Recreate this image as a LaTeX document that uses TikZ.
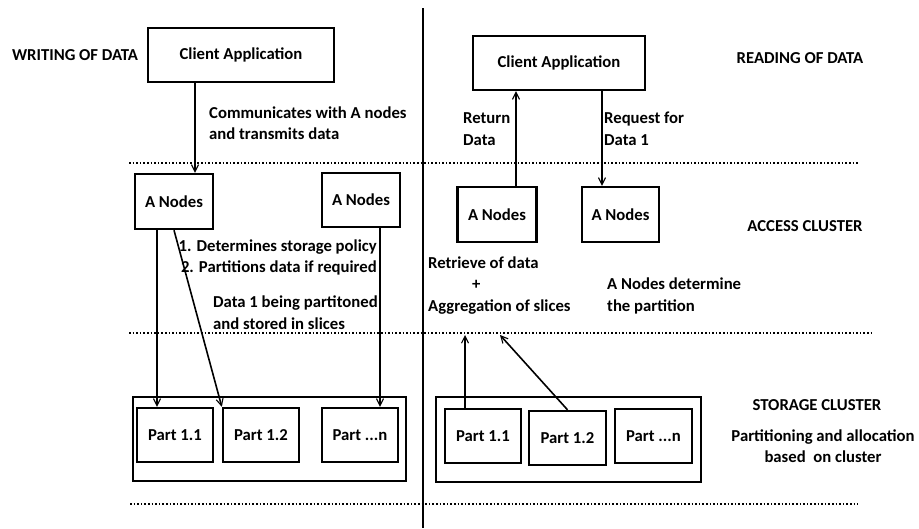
\documentclass[tikz,border=0pt]{standalone}
\usepackage{fontspec}
\setmainfont{Carlito}
\usetikzlibrary{arrows.meta}
\begin{document}
\begin{tikzpicture}[x=1pt,y=-1pt,
  every node/.style={font=\fontsize{16.7}{21.5}\selectfont\bfseries, inner sep=0pt},
  box/.style={draw, line width=2.4pt, minimum width=#1},
  arr/.style={line width=1.6pt, -{Straight Barb[length=7pt,width=7pt,line width=1.1pt]}},
  dots/.style={line width=1.6pt, dotted},
  txt/.style={align=left}]
\useasboundingbox (0,0) rectangle (919,528);
% divider and dotted lines
\coordinate (dvt) at (423,8);
\coordinate (dvb) at (423,528);
\draw[line width=1.6pt] (dvt) -- (dvb);
\coordinate (d1a) at (129,163); \coordinate (d1b) at (858,163);
\coordinate (d2a) at (129,333); \coordinate (d2b) at (873,333);
\coordinate (d3a) at (130,504); \coordinate (d3b) at (858,504);
\draw[dots] (d1a) -- (d1b);
\draw[dots] (d2a) -- (d2b);
\draw[dots] (d3a) -- (d3b);
% headings
\node (wr) at (75,55) {WRITING OF DATA};
\node (rd) at (800,58) {READING OF DATA};
\node (ac) at (805,226) {ACCESS CLUSTER};
\node (sc) at (817,405) {STORAGE CLUSTER};
\node[align=center] (pa) at (823,446) {Partitioning and allocation\\based\ \ on cluster};
% left side boxes
\node[box=186pt, minimum height=54pt] (cl) at (241,55) {Client Application};
\node[box=78pt, minimum height=55pt] (aL1) at (174,201.5) {A Nodes};
\node[box=78pt, minimum height=54pt] (aL2) at (361,200) {A Nodes};
\node[box=273pt, minimum height=84pt] (oL) at (269.5,439) {};
\node[box=76pt, minimum height=54pt] (pL1) at (175,435) {Part 1.1};
\node[box=76pt, minimum height=54pt] (pL2) at (261,435) {Part 1.2};
\node[box=76pt, minimum height=54pt] (pLn) at (360,435) {Part ...n};
% right side boxes
\node[box=172pt, minimum height=54pt] (cr) at (559,63) {Client Application};
\node[box=79pt, minimum height=55pt] (aR1) at (497,214.5) {A Nodes};
\node[box=77pt, minimum height=55pt] (aR2) at (620.5,214.5) {A Nodes};
\node[box=265pt, minimum height=85pt] (oR) at (568.5,439.5) {};
\node[box=76pt, minimum height=54pt] (pR1) at (483,436) {Part 1.1};
\node[box=77pt, minimum height=54pt] (pR2) at (567.5,438) {Part 1.2};
\node[box=77pt, minimum height=54pt] (pRn) at (653.5,436) {Part ...n};
% labels
\node[txt, anchor=west] (t1) at (209,123) {Communicates with A nodes\\and transmits data};
\node[align=right, anchor=east] (t2) at (377,257.5) {1. Determines storage policy\\2. Partitions data if required};
\node[txt, anchor=west] (t3) at (213,312.5) {Data 1 being partitoned\\and stored in slices};
\node[txt, anchor=west] (t4) at (463,129) {Return\\Data};
\node[txt, anchor=west] (t5) at (604,129) {Request for\\Data 1};
\node[txt, anchor=west] (t6) at (428,285.5) {Retrieve of data\\\hspace*{44pt}+\\Aggregation of slices};
\node[txt, anchor=west] (t7) at (607,296) {A Nodes determine\\the partition};
% x reference coordinates
\coordinate (x195) at (195,0);
\coordinate (x157) at (157,0);
\coordinate (x380) at (380,0);
\coordinate (x516) at (516,0);
\coordinate (x602) at (602,0);
\coordinate (x465) at (465,0);
\coordinate (e1) at (465,335);
\coordinate (e2) at (500,335);
% connectors left
\draw[arr] (cl.south -| x195) -- (aL1.north -| x195);
\draw[arr] (aL1.south -| x157) -- (pL1.north -| x157);
\draw[arr] (aL1.south) -- (pL2.north west);
\draw[arr] (aL2.south -| x380) -- (pLn.north -| x380);
% connectors right
\draw[arr] (aR1.north -| x516) -- (cr.south -| x516);
\draw[arr] (cr.south -| x602) -- (aR2.north -| x602);
\draw[arr] (pR1.north -| x465) -- (e1);
\draw[arr] (pR2.north) -- (e2);
\end{tikzpicture}
\end{document}
